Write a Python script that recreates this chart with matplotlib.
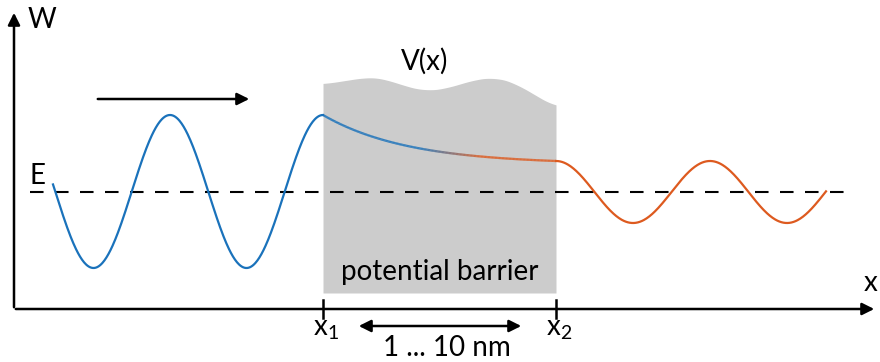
import numpy as np
import matplotlib
matplotlib.use('Agg')
import matplotlib.pyplot as plt
from matplotlib.collections import LineCollection
from matplotlib.colors import to_rgb

plt.rcParams['font.family'] = ['Lato', 'DejaVu Sans']
plt.rcParams['mathtext.fontset'] = 'custom'
plt.rcParams['mathtext.rm'] = 'Lato'
plt.rcParams['mathtext.it'] = 'Lato'

# diagram units (pixels of the original drawing, y downwards)
x1, x2 = 323, 556
e_level = 192

# barrier top contour V(x)
barrier_x = [323, 368, 382, 402, 425, 448, 472, 495, 515, 535, 556]
barrier_y = [84, 77, 78, 85, 91, 88, 80, 77, 83, 95, 107]
barrier_bottom = 293

# incoming wave (left of barrier)
left_start, left_center, left_amp, left_wl = 53, 191.5, 76.5, 153
# decay inside the barrier
decay_top, decay_end, decay_len = 115, 161, 85
# transmitted wave (right of barrier)
right_end, right_center, right_amp, right_wl = 826, 192, 31, 154

blue = '#1a72bb'
orange = '#dd5a1f'
lw = 1.6

fig = plt.figure(figsize=(8.8, 3.62), dpi=100)
ax = fig.add_axes([0, 0, 1, 1])
ax.set_xlim(0, 880)
ax.set_ylim(362, 0)
ax.axis('off')

# barrier, smoothed outline
bx = np.linspace(x1, x2, 400)
by = np.interp(bx, barrier_x, barrier_y)
k = 25
by = np.convolve(np.pad(by, k, mode='edge'), np.ones(2 * k + 1) / (2 * k + 1), mode='valid')
ax.fill_between(bx, by, barrier_bottom, color='#cccccc', lw=0, zorder=1)

# E level
ax.plot([30, 850], [e_level, e_level], color='black', lw=1.5, dashes=(6.5, 5.5), zorder=2)

# left wave
xl = np.linspace(left_start, x1, 400)
yl = left_center - left_amp * np.cos(2 * np.pi * (xl - x1) / left_wl)
ax.plot(xl, yl, color=blue, lw=lw, zorder=3)

# decay in barrier with blue->orange gradient
xm = np.linspace(x1, x2, 300)
ew = np.exp(-(x2 - x1) / decay_len)
frac = (np.exp(-(xm - x1) / decay_len) - ew) / (1 - ew)
ym = decay_end - (decay_end - decay_top) * frac
pts = np.column_stack([xm, ym]).reshape(-1, 1, 2)
segs = np.concatenate([pts[:-1], pts[1:]], axis=1)
t = np.clip((xm[:-1] - 420) / 60, 0, 1)[:, None]
cols = (1 - t) * np.array(to_rgb(blue)) + t * np.array(to_rgb(orange))
ax.add_collection(LineCollection(segs, colors=cols, lw=lw, zorder=3))

# right wave
xr = np.linspace(x2, right_end, 400)
yr = right_center - right_amp * np.cos(2 * np.pi * (xr - x2) / right_wl)
ax.plot(xr, yr, color=orange, lw=lw, zorder=3)

# axes with arrows
ax.annotate('', xy=(14, 10), xytext=(14, 310),
            arrowprops=dict(arrowstyle='-|>', color='black', lw=1.8, mutation_scale=18))
ax.annotate('', xy=(877, 309), xytext=(13, 309),
            arrowprops=dict(arrowstyle='-|>', color='black', lw=1.8, mutation_scale=18))

# ticks
for xt in (x1, x2):
    ax.plot([xt, xt], [300, 318], color='black', lw=1.8)

# direction arrow
ax.annotate('', xy=(252, 99), xytext=(95, 99),
            arrowprops=dict(arrowstyle='-|>', color='black', lw=1.8, mutation_scale=18))
# width arrow
ax.annotate('', xy=(524, 326), xytext=(356, 326),
            arrowprops=dict(arrowstyle='<|-|>', color='black', lw=1.8, mutation_scale=18))

fs = 20
ax.text(28, 20, 'W', fontsize=fs, va='center', ha='left')
ax.text(871, 283, 'x', fontsize=fs, va='center', ha='center')
ax.text(38, 176, 'E', fontsize=fs, va='center', ha='center')
ax.text(425, 61, 'V(x)', fontsize=fs, va='center', ha='center')
ax.text(440, 272, 'potential barrier', fontsize=fs, va='center', ha='center')
ax.text(x1 + 3, 329, 'x$_1$', fontsize=fs, va='center', ha='center')
ax.text(x2 + 3, 329, 'x$_2$', fontsize=fs, va='center', ha='center')
ax.text(447, 348, '1 ... 10 nm', fontsize=fs, va='center', ha='center')

fig.savefig('out.png', dpi=100)
